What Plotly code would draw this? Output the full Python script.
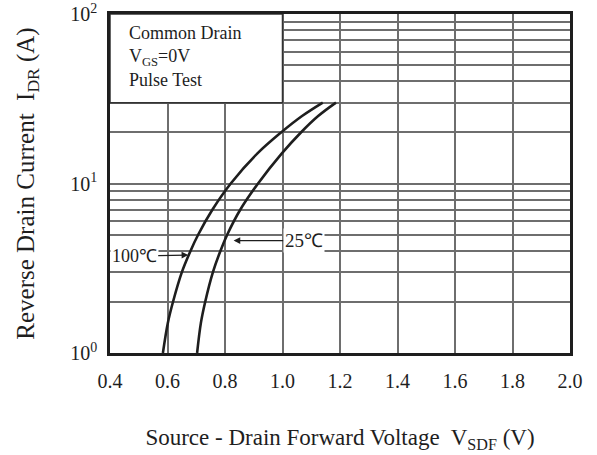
import plotly.graph_objects as go

# Data
current_A = [1, 1.5, 2, 3, 4, 5, 7, 10, 15, 20, 25, 30]
vsd_100C = [0.584, 0.601, 0.619, 0.650, 0.680, 0.707, 0.756, 0.820, 0.912, 0.995, 1.068, 1.140]
vsd_25C = [0.703, 0.716, 0.731, 0.758, 0.784, 0.808, 0.853, 0.915, 0.997, 1.064, 1.124, 1.186]

x_ticks = [0.4, 0.6, 0.8, 1.0, 1.2, 1.4, 1.6, 1.8, 2.0]
x_ticktext = ["0.4", "0.6", "0.8", "1.0", "1.2", "1.4", "1.6", "1.8", "2.0"]
y_grid = [1, 2, 3, 4, 5, 6, 7, 8, 9, 10, 20, 30, 40, 50, 60, 70, 80, 90, 100]
y_labels = {1: "10<sup>0</sup>", 10: "10<sup>1</sup>", 100: "10<sup>2</sup>"}

FONT = "Liberation Serif, Times New Roman, serif"
INK = "#1e1e1e"

fig = go.Figure()
fig.add_trace(go.Scatter(x=vsd_100C, y=current_A, mode="lines",
                         line=dict(color=INK, width=2.6, shape="spline", smoothing=1.0), showlegend=False))
fig.add_trace(go.Scatter(x=vsd_25C, y=current_A, mode="lines",
                         line=dict(color=INK, width=2.6, shape="spline", smoothing=1.0), showlegend=False))

# condition box (covers grid in upper-left)
fig.add_shape(type="rect", xref="x", yref="y", x0=0.4, x1=1.0, y0=30, y1=100,
              fillcolor="white", line=dict(color="#333", width=1.5), layer="above")

fig.add_annotation(xref="paper", yref="paper", x=0.038, y=0.876, xanchor="left", yanchor="middle",
                   align="left", showarrow=False,
                   text="Common Drain<br>V<sub>GS</sub>=0V<br>Pulse Test",
                   font=dict(family=FONT, size=18, color=INK))

fig.add_annotation(x=0.83, y=0.663, xref="x", yref="y", text="25\u2103", showarrow=True,
                   ax=70, ay=0, arrowhead=2, arrowsize=1.1, arrowwidth=1.2, arrowcolor=INK,
                   bgcolor="white", font=dict(family=FONT, size=19, color=INK))
fig.add_annotation(x=0.672, y=0.578, xref="x", yref="y", text="100\u2103", showarrow=True,
                   ax=-54, ay=1, arrowhead=2, arrowsize=1.1, arrowwidth=1.2, arrowcolor=INK,
                   bgcolor="white", font=dict(family=FONT, size=18, color=INK))

fig.update_xaxes(range=[0.4, 2.0], tickvals=x_ticks, ticktext=x_ticktext, automargin=False,
                 showgrid=True, gridcolor="#6e6e6e", gridwidth=1.5,
                 showline=True, linecolor=INK, linewidth=2.6, mirror=True,
                 ticks="", ticklabelstandoff=8, zeroline=False,
                 tickfont=dict(family=FONT, size=20, color=INK),
                 title=dict(text="Source - Drain Forward Voltage  V<sub>SDF</sub> (V)",
                            font=dict(family=FONT, size=23, color=INK), standoff=39))
fig.update_yaxes(type="log", range=[0, 2], tickvals=y_grid, automargin=False,
                 ticktext=[y_labels.get(v, "") for v in y_grid],
                 showgrid=True, gridcolor="#6e6e6e", gridwidth=1.5,
                 showline=True, linecolor=INK, linewidth=2.6, mirror=True,
                 ticks="", ticklabelstandoff=6, zeroline=False,
                 tickfont=dict(family=FONT, size=20, color=INK),
                 title=dict(text="Reverse Drain Current  I<sub>DR</sub> (A)",
                            font=dict(family=FONT, size=25, color=INK), standoff=29))

fig.update_layout(width=597, height=455, margin=dict(l=110, r=27, t=14, b=102),
                  plot_bgcolor="white", paper_bgcolor="white", showlegend=False)

fig.write_html("out.html")
